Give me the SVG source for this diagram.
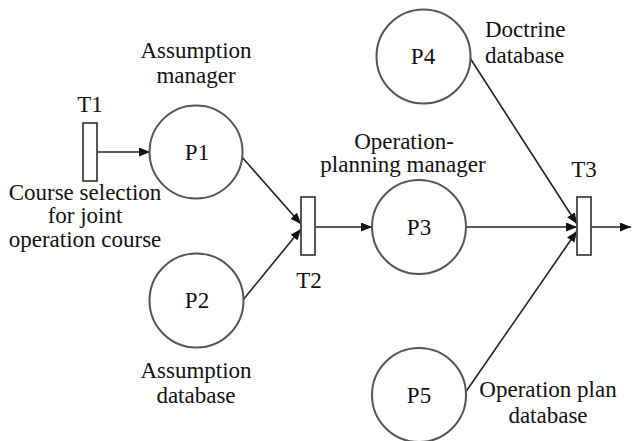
<svg xmlns="http://www.w3.org/2000/svg" width="632" height="441" viewBox="0 0 632 441">
<style>
.place{fill:#fff;stroke:#555;stroke-width:2}
.trans{fill:#fff;stroke:#444;stroke-width:1.8}
.edge{stroke:#222;stroke-width:1.6;fill:none;marker-end:url(#arr)}
.lbl{font-family:'Liberation Serif','DejaVu Serif',serif;font-size:23px;fill:#111}
.c{text-anchor:middle}
</style>
<defs>
<marker id="arr" markerUnits="userSpaceOnUse" markerWidth="12" markerHeight="10" refX="11" refY="4.5" orient="auto">
<path d="M0,0 L11,4.5 L0,9 z" fill="#111"/>
</marker>
</defs>
<rect width="632" height="441" fill="#fff"/>
<g id="connectors">
<line class="edge" x1="97" y1="152" x2="150" y2="152"/>
<line class="edge" x1="241" y1="156" x2="301" y2="224"/>
<line class="edge" x1="243" y1="300" x2="301" y2="229"/>
<line class="edge" x1="315" y1="227" x2="372" y2="227"/>
<line class="edge" x1="466" y1="227" x2="577" y2="227"/>
<line class="edge" x1="470" y1="58" x2="577" y2="224"/>
<line class="edge" x1="465" y1="393" x2="577" y2="231"/>
<line class="edge" x1="591" y1="227" x2="631" y2="227"/>
</g>
<g class="lbl">
<g id="T1">
<rect class="trans" x="83" y="123" width="14" height="58"/>
<text class="c" x="90" y="112">T1</text>
<text class="c" x="85" y="200">Course selection</text>
<text class="c" x="85" y="223">for joint</text>
<text class="c" x="85" y="247">operation course</text>
</g>
<g id="P1">
<circle class="place" cx="196" cy="152" r="46.5"/>
<text class="c" x="197" y="160">P1</text>
<text class="c" x="196" y="58">Assumption</text>
<text class="c" x="196" y="83">manager</text>
</g>
<g id="P2">
<circle class="place" cx="196.5" cy="300.5" r="47"/>
<text class="c" x="197" y="308">P2</text>
<text class="c" x="196" y="378">Assumption</text>
<text class="c" x="196" y="403">database</text>
</g>
<g id="T2">
<rect class="trans" x="301" y="197" width="14" height="58"/>
<text class="c" x="309" y="288">T2</text>
</g>
<g id="P3">
<circle class="place" cx="419" cy="227" r="47"/>
<text class="c" x="419" y="235">P3</text>
<text class="c" x="404" y="149">Operation-</text>
<text class="c" x="403" y="172">planning manager</text>
</g>
<g id="P4">
<circle class="place" cx="423.5" cy="56.5" r="47"/>
<text class="c" x="423" y="64">P4</text>
<text x="485" y="37">Doctrine</text>
<text x="485" y="63">database</text>
</g>
<g id="P5">
<circle class="place" cx="419" cy="395" r="47"/>
<text class="c" x="419" y="403">P5</text>
<text class="c" x="548" y="397">Operation plan</text>
<text class="c" x="548" y="423">database</text>
</g>
<g id="T3">
<rect class="trans" x="577" y="197" width="14" height="58"/>
<text class="c" x="584" y="177">T3</text>
</g>
</g>
</svg>
